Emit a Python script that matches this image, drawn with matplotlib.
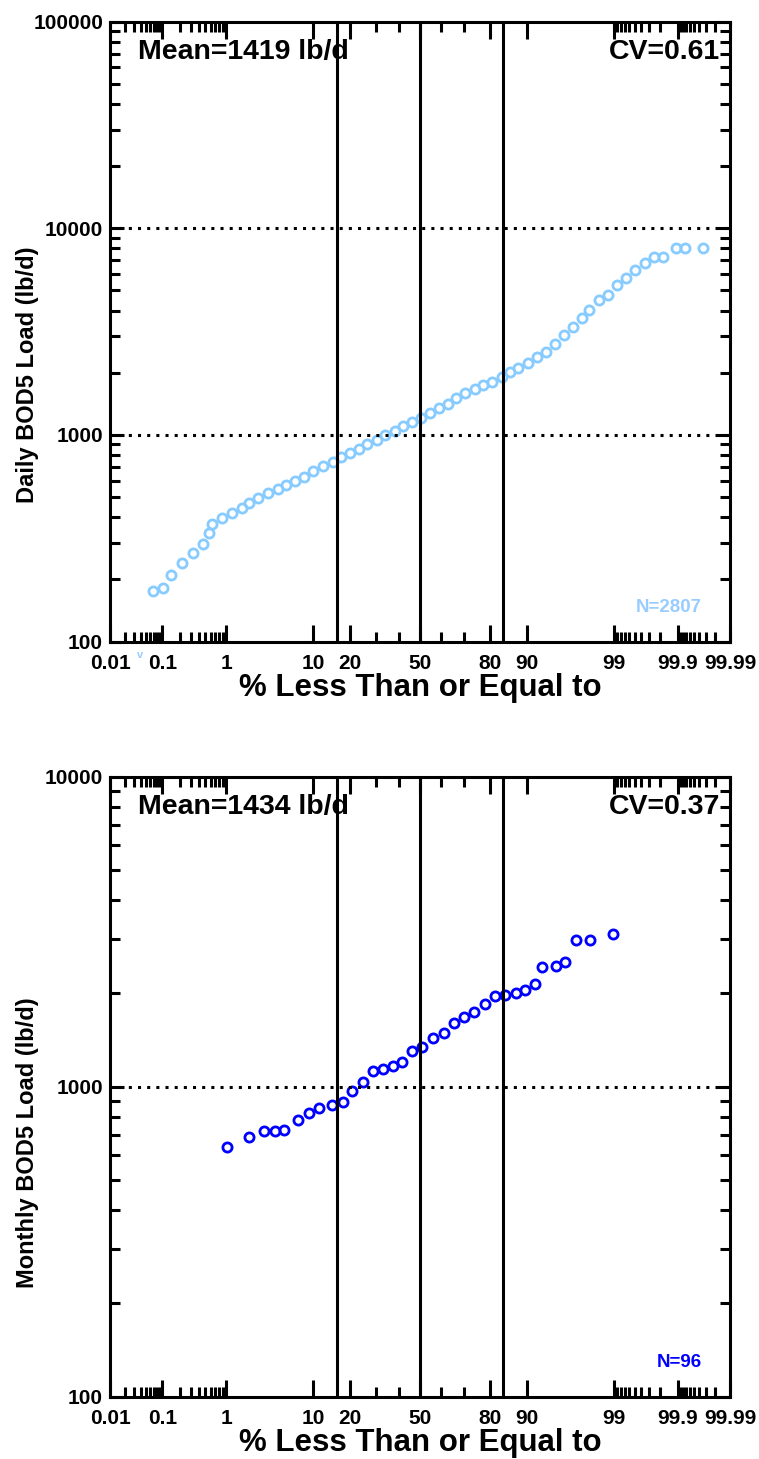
import numpy as np
import matplotlib
matplotlib.use('Agg')
import matplotlib.pyplot as plt
from matplotlib.ticker import FixedLocator, FuncFormatter, LogLocator, NullFormatter
from statistics import NormalDist

plt.rcParams['font.family'] = ['Liberation Sans', 'DejaVu Sans']
plt.rcParams['font.weight'] = 'bold'
plt.rcParams['axes.labelweight'] = 'bold'

# daily loads (thinned points as plotted), % less than or equal to
daily_pct = [0.0687, 0.1035, 0.143, 0.212, 0.319, 0.466, 0.567, 0.621, 0.866, 1.19,
             1.62, 2.03, 2.62, 3.44, 4.46, 5.39, 6.68, 8.20, 10.0, 12.14,
             14.73, 17.06, 20.05, 23.33, 26.37, 30.15, 33.72, 38.21, 42.07, 46.02,
             50.3, 54.78, 59.17, 63.31, 66.71, 70.54, 74.54, 77.64, 80.51, 83.64,
             85.99, 88.1, 90.32, 91.92, 93.47, 94.74, 95.84, 96.65, 97.38, 97.89,
             98.43, 98.81, 99.09, 99.33, 99.51, 99.65, 99.75, 99.82, 99.894, 99.926,
             99.965]
daily_load = [175, 182, 210, 240, 269, 297, 335, 371, 395, 418,
              442, 467, 494, 522, 546, 573, 599, 628, 670, 710,
              743, 780, 816, 856, 902, 946, 1000, 1049, 1105, 1160,
              1204, 1273, 1346, 1413, 1502, 1591, 1664, 1746, 1811, 1915,
              2024, 2102, 2238, 2392, 2529, 2756, 3046, 3319, 3669, 4025,
              4499, 4757, 5318, 5730, 6285, 6818, 7238, 7238, 8003, 8003,
              8003]

# monthly loads
monthly_pct = [1.02, 2.03, 3.06, 4.09, 5.18, 7.21, 9.21, 11.28, 14.64, 17.68,
               20.83, 24.8, 28.8, 33.0, 37.4, 41.3, 46.3, 51.0, 56.4, 61.5,
               66.0, 70.3, 74.3, 78.2, 81.6, 84.6, 87.5, 89.6, 91.6, 92.8,
               94.9, 95.9, 96.9, 97.9, 98.98]
monthly_load = [640, 690, 718, 721, 725, 781, 821, 852, 873, 895,
                968, 1038, 1126, 1141, 1166, 1204, 1306, 1340, 1433, 1487,
                1602, 1682, 1746, 1848, 1962, 1976, 2001, 2051, 2144, 2428,
                2451, 2519, 2973, 2973, 3109]

x_major = [0.01, 0.1, 1, 10, 20, 50, 80, 90, 99, 99.9, 99.99]
x_labels = ['0.01', '0.1', '1', '10', '20', '50', '80', '90', '99', '99.9', '99.99']
x_minor = [0.02, 0.03, 0.04, 0.05, 0.06, 0.07, 0.08, 0.09,
           0.2, 0.3, 0.4, 0.5, 0.6, 0.7, 0.8, 0.9, 30, 40, 60, 70,
           99.1, 99.2, 99.3, 99.4, 99.5, 99.6, 99.7, 99.8,
           99.91, 99.92, 99.93, 99.94, 99.95, 99.96, 99.97, 99.98]
sigma_lines = [15.87, 50, 84.13]

nd = NormalDist()
_ppf = np.vectorize(nd.inv_cdf, otypes=[float])
_cdf = np.vectorize(nd.cdf, otypes=[float])


def fwd(p):
    p = np.clip(np.asarray(p, dtype=float) / 100.0, 1e-9, 1 - 1e-9)
    return _ppf(p)


def inv(z):
    return _cdf(np.asarray(z, dtype=float)) * 100.0


W, H = 759, 1459
fig = plt.figure(figsize=(W / 100, H / 100), dpi=100)


def prob_panel(top_px, pct, load, ylim, ylabel, ylab_y, color, ncolor, mean, cv, n):
    ax = fig.add_axes([110 / W, 1 - (top_px + 620) / H, 620 / W, 620 / H])
    ax.set_xscale('function', functions=(fwd, inv))
    ax.set_yscale('log')
    ax.set_xlim(0.01, 99.99)
    ax.set_ylim(*ylim)

    ax.plot(pct, load, 'o', ms=6.6, mfc='none', mec=color, mew=2.0, zorder=2)

    for p in sigma_lines:
        ax.axvline(p, color='black', lw=2.2, zorder=3)
    dec = 1000
    while dec < ylim[1]:
        ax.axhline(dec, color='black', lw=2.2, ls=(0, (1, 2)), zorder=3)
        dec *= 10

    ax.xaxis.set_major_locator(FixedLocator(x_major))
    ax.xaxis.set_minor_locator(FixedLocator(x_minor))
    ax.set_xticklabels(x_labels)
    ax.xaxis.set_minor_formatter(NullFormatter())
    ax.yaxis.set_major_locator(LogLocator(base=10))
    ax.yaxis.set_minor_locator(LogLocator(base=10, subs=np.arange(2, 10)))
    ax.yaxis.set_major_formatter(FuncFormatter(lambda v, pos: f'{int(round(v))}'))
    ax.yaxis.set_minor_formatter(NullFormatter())

    ax.tick_params(which='both', direction='in', top=True, right=True,
                   width=2.2, labelsize=15)
    ax.tick_params(axis='x', which='major', length=12, pad=9)
    ax.tick_params(axis='x', which='minor', length=7.5)
    ax.tick_params(axis='y', which='major', length=10, pad=5)
    ax.tick_params(axis='y', which='minor', length=7.5)
    for s in ax.spines.values():
        s.set_linewidth(2.2)

    ax.set_xlabel('% Less Than or Equal to', fontsize=22.5, labelpad=0)
    ax.set_ylabel(ylabel, fontsize=17)
    ax.yaxis.set_label_coords(-0.133, ylab_y)
    ax.yaxis.label.set_va('center')

    ax.text(0.045, 0.972, f'Mean={mean} lb/d', transform=ax.transAxes,
            fontsize=20.5, ha='left', va='top')
    ax.text(0.984, 0.972, f'CV={cv}', transform=ax.transAxes,
            fontsize=20.5, ha='right', va='top')
    ax.text(0.955, 0.048, f'N={n}', transform=ax.transAxes, color=ncolor,
            fontsize=13.5, ha='right', va='baseline')
    return ax


ax1 = prob_panel(21.6, daily_pct, daily_load, (100, 100000),
                 'Daily BOD5 Load (lb/d)', 0.43, '#88CCFF', '#99CCFF', 1419, '0.61', 2807)
ax1.text(0.04, -0.022, 'v', transform=ax1.get_xaxis_transform(), color='#99CCFF',
         fontsize=8, ha='center', va='center')

ax2 = prob_panel(776.7, monthly_pct, monthly_load, (100, 10000),
                 'Monthly BOD5 Load (lb/d)', 0.41, '#0000FF', '#0000FF', 1434, '0.37', 96)

fig.savefig('out.png', dpi=100)
